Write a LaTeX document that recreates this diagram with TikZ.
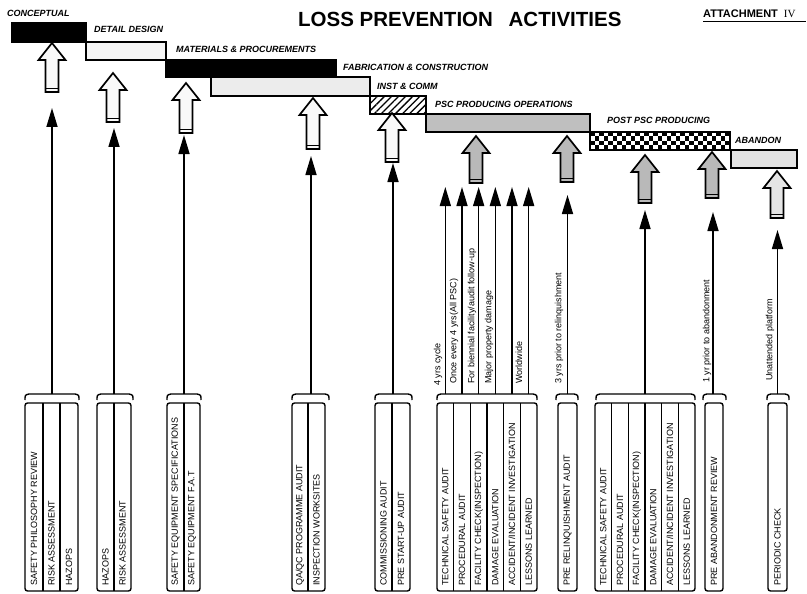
\documentclass[tikz,border=0pt]{standalone}
\usepackage{fontspec}
\setmainfont{Liberation Sans}
\newfontfamily\lpserif{Liberation Serif}
\usetikzlibrary{arrows.meta,patterns.meta}
\tikzset{
  phase/.style={font=\fontsize{9}{10}\selectfont\bfseries\itshape, anchor=base west, inner sep=0pt},
  boxtxt/.style={font=\fontsize{9}{10}\selectfont, rotate=90, anchor=west, inner sep=0pt},
  arrtxt/.style={font=\fontsize{9}{10}\selectfont, rotate=90, anchor=west, inner sep=0pt},
  bar/.style={draw=black, line width=1.4pt},
  grp/.style={draw=black, line width=1.4pt, rounded corners=2.5pt},
  grpline/.style={draw=black, line width=1.2pt},
  conn/.style={line width=1.6pt, -{Triangle[width=11pt,length=19pt]}},
  brk/.style={line width=1.4pt},
  blk/.style={draw=black, line width=1.7pt, line join=miter},
}
\newcommand{\lpblock}[4]{%
  \draw[blk, fill=#4] (#1,#2) -- (#1+13.5,#2+17) -- (#1+6.5,#2+17) -- (#1+6.5,#3) -- (#1-6.5,#3) -- (#1-6.5,#2+17) -- (#1-13.5,#2+17) -- cycle;
  \draw[line width=0.8pt] (#1-6.5,#3-4) -- (#1+6.5,#3-4);}
\newcommand{\lpbrace}[2]{%
  \draw[brk] (#1,400) .. controls (#1,395) .. (#1+4,394) -- (#2-4,394) .. controls (#2,395) .. (#2,400);}
\begin{document}
\begin{tikzpicture}[x=1pt,y=-1pt]
\useasboundingbox (0,0) rectangle (807,594);
\fill[white] (0,0) rectangle (807,594);

% title
\node[anchor=base west, inner sep=0pt, font=\fontsize{20.5}{24}\selectfont\bfseries] (title) at (298,27) {LOSS PREVENTION\hspace{10pt} ACTIVITIES};
\node[anchor=base west, inner sep=0pt, font=\fontsize{11}{12}\selectfont\bfseries] (att) at (703,18) {ATTACHMENT\hspace{6pt}{\lpserif\mdseries IV}};
\draw[line width=0.9pt] (703,21.5) -- (806,21.5);

% phase bars
\draw[bar, fill=black] (12,23) rectangle (86,42);
\draw[bar, fill=gray!8] (86,42) rectangle (166,60);
\draw[bar, fill=black] (166,60) rectangle (336,77);
\draw[bar, fill=gray!15] (211,77) rectangle (370,96);
\fill[white] (370,96) rectangle (426,114);
\fill[pattern={Lines[angle=45,distance=5pt,line width=1.3pt]}] (370,96) rectangle (426,114);
\draw[bar] (370,96) rectangle (426,114);
\draw[bar, fill=gray!50] (426,114) rectangle (590,132);
\fill[white] (590,132) rectangle (730,150);
\begin{scope}
  \clip (590,132) rectangle (730,150);
  \foreach \i in {0,2,...,30} {
    \foreach \j in {0,2} {
      \fill[black] (590+\i*4.5,132+\j*4.5) rectangle ++(4.5,4.5);
      \fill[black] (594.5+\i*4.5,136.5+\j*4.5) rectangle ++(4.5,4.5);
    }
  }
\end{scope}
\draw[bar] (590,132) rectangle (730,150);
\draw[bar, fill=gray!22] (731,150) rectangle (797,168);

% phase labels
\node[phase] (pConc) at (7,17) {CONCEPTUAL};
\node[phase] (pDet) at (94,33) {DETAIL DESIGN};
\node[phase] (pMat) at (176,53) {MATERIALS \& PROCUREMENTS};
\node[phase] (pFab) at (343,71) {FABRICATION \& CONSTRUCTION};
\node[phase] (pInst) at (377,90) {INST \& COMM};
\node[phase] (pPsc) at (435,107) {PSC PRODUCING OPERATIONS};
\node[phase] (pPost) at (607,124) {POST PSC PRODUCING};
\node[phase] (pAb) at (735,143) {ABANDON};

% block arrows
\lpblock{52}{43}{92}{gray!5}
\lpblock{113}{73}{122}{gray!5}
\lpblock{186}{83}{133}{gray!5}
\lpblock{313}{98}{149}{gray!5}
\lpblock{392}{113}{162}{gray!5}
\lpblock{476}{136}{183}{gray!55}
\lpblock{567}{136}{182}{gray!55}
\lpblock{645}{155}{203}{gray!55}
\lpblock{712}{152}{198}{gray!55}
\lpblock{777}{171}{218}{gray!20}

% brackets
\lpbrace{25}{79}
\lpbrace{97}{133}
\lpbrace{167}{201}
\lpbrace{292}{329}
\lpbrace{375}{412}
\lpbrace{437}{537}
\lpbrace{556}{578}
\lpbrace{596}{695}
\lpbrace{703}{726}
\lpbrace{767}{789}

% thin connectors
\foreach \n/\x/\t in {a/52/108, b/114/128, c/184/135, d/311/156, e/393/163, p/567.5/195, q/645/210, r/713/212, s/777.5/230} {
  \coordinate (s\n) at (\x,394);
  \coordinate (e\n) at (\x,\t);
  \draw[conn] (s\n) -- (e\n);
}
\foreach \k in {1,...,6} {
  \coordinate (sg\k) at ({437+(\k-0.5)*16.667},394);
  \coordinate (eg\k) at ({437+(\k-0.5)*16.667},187);
  \draw[conn] (sg\k) -- (eg\k);
}

% connector labels
\node[arrtxt] (l1) at (438,386) {4 yrs cycle};
\node[arrtxt] (l2) at (454,384) {Once every 4 yrs(All PSC)};
\node[arrtxt] (l3) at (472,384) {For biennial facility/audit follow-up};
\node[arrtxt] (l4) at (489,384) {Major property damage};
\node[arrtxt] (l5) at (519,384) {Worldwide};
\node[arrtxt] (l6) at (559,384) {3 yrs prior to relinquishment};
\node[arrtxt] (l7) at (707,383) {1 yr prior to abandonment};
\node[arrtxt] (l8) at (770,381) {Unattended platform};

% activity boxes
\draw[grp] (25,403) rectangle (78,591);
\draw[grpline] (43,403) -- (43,591);
\draw[grpline] (60,403) -- (60,591);
\node[boxtxt] (a1) at (34,586) {SAFETY PHILOSOPHY REVIEW};
\node[boxtxt] (a2) at (51.5,586) {RISK ASSESSMENT};
\node[boxtxt] (a3) at (69,586) {HAZOPS};

\draw[grp] (97,403) rectangle (131,591);
\draw[grpline] (114,403) -- (114,591);
\node[boxtxt] (b1) at (105.5,586) {HAZOPS};
\node[boxtxt] (b2) at (122.5,586) {RISK ASSESSMENT};

\draw[grp] (167,403) rectangle (200,591);
\draw[grpline] (184,403) -- (184,591);
\node[boxtxt] (c1) at (175.5,586) {SAFETY EQUIPMENT SPECIFICATIONS};
\node[boxtxt] (c2) at (192,586) {SAFETY EQUIPMENT F.A.T};

\draw[grp] (292,403) rectangle (325,591);
\draw[grpline] (308,403) -- (308,591);
\node[boxtxt] (d1) at (300,586) {QA/QC PROGRAMME AUDIT};
\node[boxtxt] (d2) at (316.5,586) {INSPECTION WORKSITES};

\draw[grp] (375,403) rectangle (410,591);
\draw[grpline] (392,403) -- (392,591);
\node[boxtxt] (e1) at (383.5,586) {COMMISSIONING AUDIT};
\node[boxtxt] (e2) at (401,586) {PRE START-UP AUDIT};

\draw[grp] (437,403) rectangle (537,591);
\foreach \k in {1,...,5} \draw[grpline] ({437+\k*16.667},403) -- ({437+\k*16.667},591);
\foreach \t [count=\k] in {TECHNICAL SAFETY AUDIT, PROCEDURAL AUDIT, FACILITY CHECK(INSPECTION), DAMAGE EVALUATION, ACCIDENT/INCIDENT INVESTIGATION, LESSONS LEARNED} {
  \node[boxtxt] (f\k) at ({437+(\k-0.5)*16.667},586) {\t};
}

\draw[grp] (558,403) rectangle (577,591);
\node[boxtxt] (g1) at (567.5,586) {PRE RELINQUISHMENT AUDIT};

\draw[grp] (595,403) rectangle (695,591);
\foreach \k in {1,...,5} \draw[grpline] ({595+\k*16.667},403) -- ({595+\k*16.667},591);
\foreach \t [count=\k] in {TECHNICAL SAFETY AUDIT, PROCEDURAL AUDIT, FACILITY CHECK(INSPECTION), DAMAGE EVALUATION, ACCIDENT/INCIDENT INVESTIGATION, LESSONS LEARNED} {
  \node[boxtxt] (h\k) at ({595+(\k-0.5)*16.667},586) {\t};
}

\draw[grp] (705,403) rectangle (723,591);
\node[boxtxt] (i1) at (714,586) {PRE ABANDONMENT REVIEW};

\draw[grp] (768,403) rectangle (787,591);
\node[boxtxt] (j1) at (777.5,586) {PERIODIC CHECK};
\end{tikzpicture}
\end{document}
